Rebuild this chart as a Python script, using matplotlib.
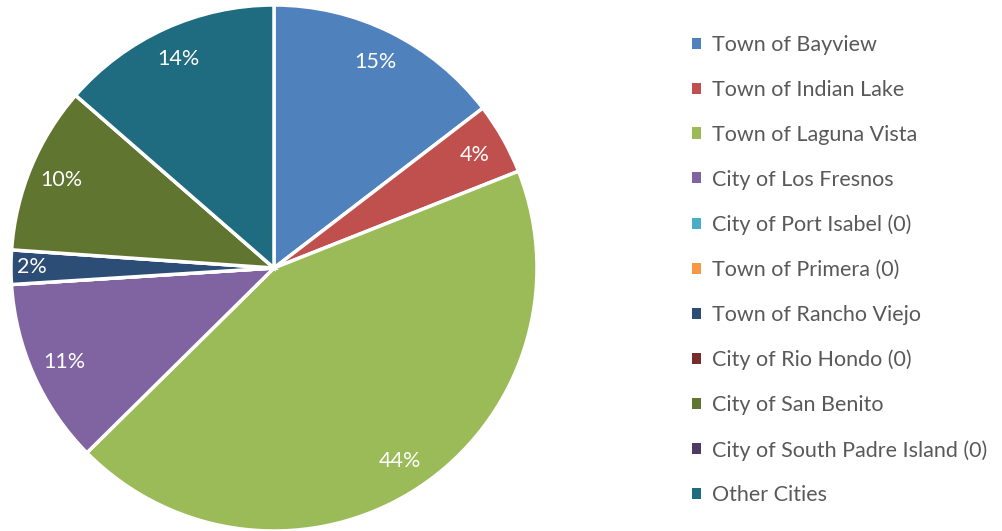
import matplotlib
matplotlib.use("Agg")
import matplotlib.pyplot as plt
from matplotlib.patches import Patch

categories = ["Town of Bayview", "Town of Indian Lake", "Town of Laguna Vista",
              "City of Los Fresnos", "City of Port Isabel (0)", "Town of Primera (0)",
              "Town of Rancho Viejo", "City of Rio Hondo (0)", "City of San Benito",
              "City of South Padre Island (0)", "Other Cities"]
values = [14.6, 4.4, 43.6, 11.4, 0, 0, 2.1, 0, 10.3, 0, 13.6]
colors = ["#4F81BD", "#C0504D", "#9BBB59", "#8064A2", "#4BACC6", "#F79646",
          "#2C4D75", "#772C2A", "#5F7530", "#4D3B62", "#1F6B7F"]

plt.rcParams['font.family'] = ['Lato', 'DejaVu Sans']

fig = plt.figure(figsize=(10.02, 5.31), dpi=100)
ax = fig.add_axes([11/1002, 0.0, 526/1002, 526/531])

def fmt(p):
    return f"{p:.0f}%" if p > 0.05 else ""

wedges, texts, autotexts = ax.pie(values, colors=colors, startangle=90, counterclock=False,
                                  autopct=fmt, pctdistance=0.875,
                                  wedgeprops=dict(edgecolor="white", linewidth=2.5),
                                  textprops=dict(color="white", fontsize=15.5))
for v, t in zip(values, autotexts):
    if 0 < v < 3:
        x, y = t.get_position()
        t.set_position((x * 0.92 / 0.875, y * 0.92 / 0.875))
ax.set_aspect("equal")
ax.set_xlim(-1, 1)
ax.set_ylim(-1, 1)

handles = [Patch(facecolor=c, edgecolor="none") for c in colors]
leg = fig.legend(handles, categories, loc="upper left", bbox_to_anchor=(692/1002, 1 - 35/531),
                 frameon=False, fontsize=15.5, handlelength=0.42, handleheight=0.42,
                 handletextpad=0.5, labelspacing=1.155, borderaxespad=0, borderpad=0)
for t in leg.get_texts():
    t.set_color("#595959")

fig.savefig("out.png", dpi=100)
